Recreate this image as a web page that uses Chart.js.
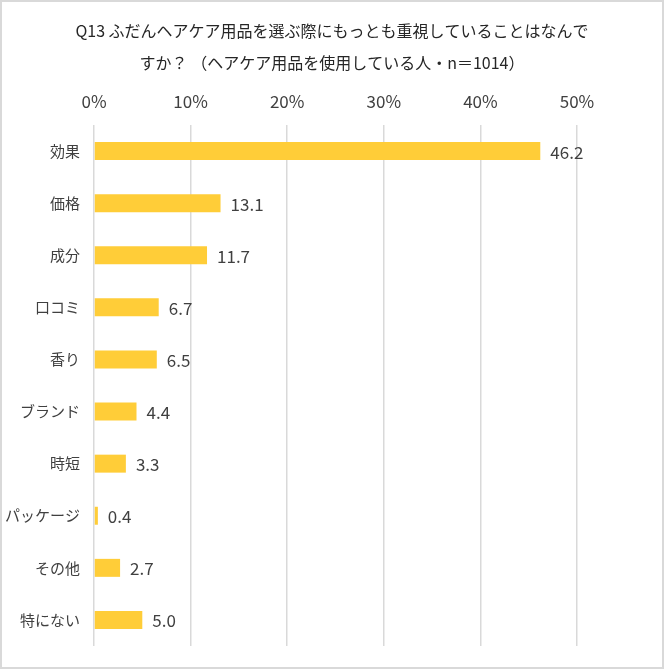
<!DOCTYPE html>
<html>
<head>
<meta charset="utf-8">
<script src="https://cdn.jsdelivr.net/npm/chart.js@4/dist/chart.umd.min.js"></script>
<style>
html,body{margin:0;padding:0;background:#fff;overflow:hidden;}
canvas{display:block;}
</style>
</head>
<body>
<canvas id="c" width="664" height="669"></canvas>
<script>
const titleLines = ['Q13 ふだんヘアケア用品を選ぶ際にもっとも重視していることはなんで', 'すか？ （ヘアケア用品を使用している人・n＝1014）'];
const categories = ['効果', '価格', '成分', '口コミ', '香り', 'ブランド', '時短', 'パッケージ', 'その他', '特にない'];
const values = [46.2, 13.1, 11.7, 6.7, 6.5, 4.4, 3.3, 0.4, 2.7, 5.0];
const tickValues = [0, 10, 20, 30, 40, 50];

const FONT = '"Noto Sans CJK JP", "Noto Sans", sans-serif';
const TEXT = '#404040';

const frame = {
  id: 'frame',
  beforeDraw(chart) {
    const ctx = chart.ctx;
    ctx.save();
    ctx.fillStyle = '#fff';
    ctx.fillRect(0, 0, chart.width, chart.height);
    ctx.strokeStyle = '#d9d9d9';
    ctx.lineWidth = 2;
    ctx.strokeRect(1, 1, chart.width - 2, chart.height - 2);
    ctx.restore();
  },
  afterDraw(chart) {
    const ctx = chart.ctx;
    ctx.save();
    ctx.font = '16px ' + FONT;
    ctx.fillStyle = '#262626';
    ctx.textAlign = 'center';
    ctx.textBaseline = 'middle';
    titleLines.forEach((t, i) => ctx.fillText(t, chart.width / 2, 31 + i * 32));
    ctx.restore();
  }
};

const valueLabels = {
  id: 'valueLabels',
  afterDatasetsDraw(chart) {
    const ctx = chart.ctx;
    const meta = chart.getDatasetMeta(0);
    const ds = chart.data.datasets[0];
    ctx.save();
    ctx.font = '17px ' + FONT;
    ctx.fillStyle = TEXT;
    ctx.textAlign = 'left';
    ctx.textBaseline = 'middle';
    meta.data.forEach((bar, i) => {
      ctx.fillText(ds.data[i].toFixed(1), bar.x + 10, bar.y + 1);
    });
    ctx.restore();
  }
};

new Chart(document.getElementById('c'), {
  type: 'bar',
  data: {
    labels: categories,
    datasets: [{
      data: values,
      backgroundColor: '#FFCD38',
      borderWidth: 0,
      categoryPercentage: 1,
      barPercentage: 0.345
    }]
  },
  options: {
    indexAxis: 'y',
    responsive: false,
    animation: false,
    devicePixelRatio: 1,
    layout: { padding: { left: 2, right: 87, top: 79, bottom: 21 } },
    plugins: {
      legend: { display: false },
      tooltip: { enabled: false },
      title: { display: false }
    },
    scales: {
      x: {
        position: 'top',
        min: 0,
        max: 50,
        afterBuildTicks(scale) { scale.ticks = tickValues.map(v => ({ value: v })); },
        afterFit(scale) { scale.height = 46; },
        ticks: {
          callback: v => v + '%',
          color: TEXT,
          font: { family: FONT, size: 17 },
          padding: 13,
          maxRotation: 0
        },
        grid: { color: '#d9d9d9', lineWidth: 1.5, drawTicks: false },
        border: { display: false }
      },
      y: {
        afterFit(scale) { scale.width = 92; },
        ticks: {
          color: TEXT,
          font: { family: FONT, size: 15 },
          padding: 14
        },
        grid: { display: false, drawTicks: false },
        border: { display: false }
      }
    }
  },
  plugins: [frame, valueLabels]
});
</script>
</body>
</html>
